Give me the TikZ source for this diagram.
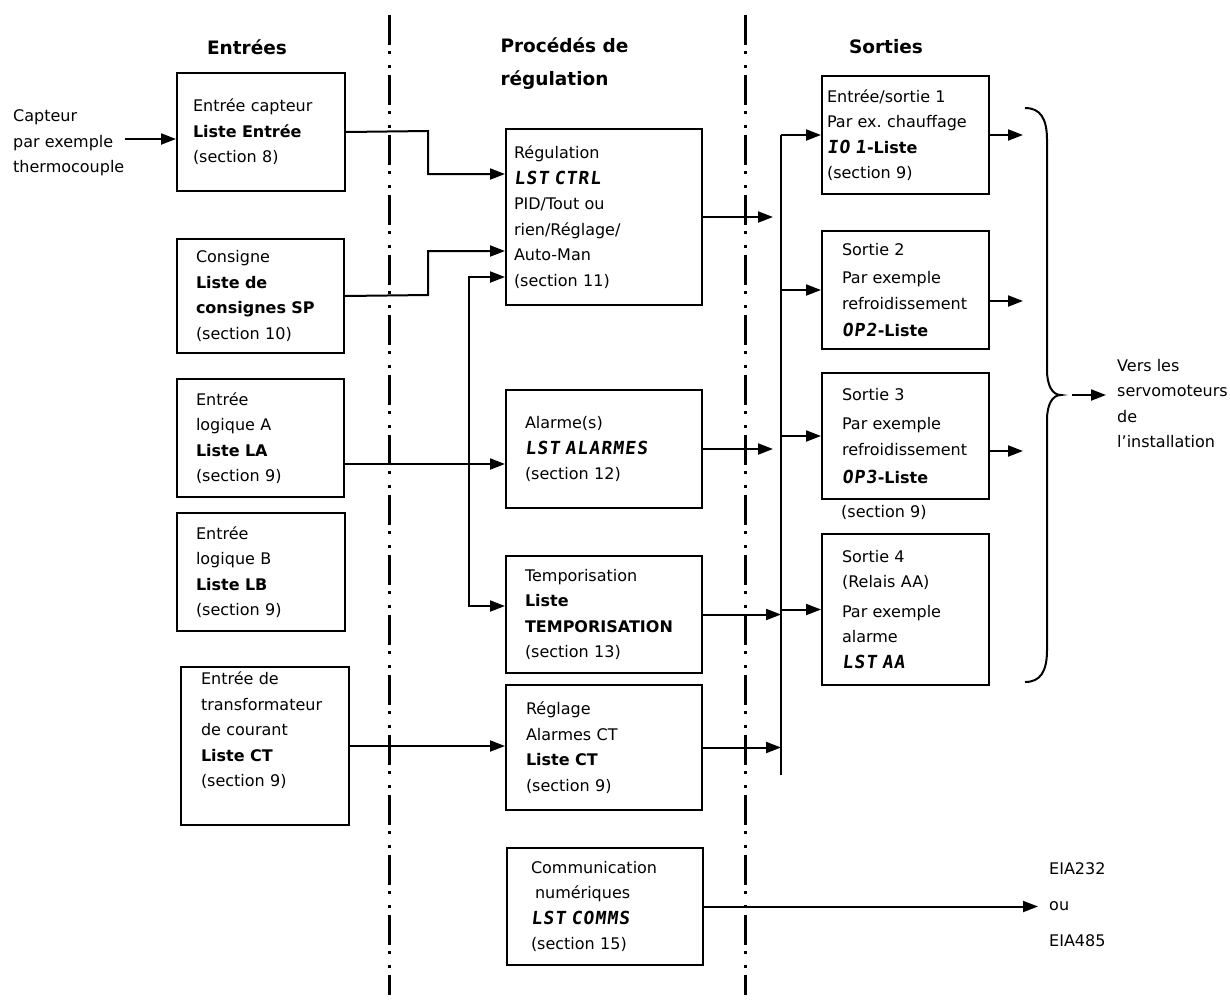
\documentclass[tikz,border=0pt]{standalone}
\usepackage{fontspec}
\setmainfont{DejaVu Sans}
\newfontfamily\segfont[FakeSlant=0.12,LetterSpace=6]{DejaVu Sans Mono}
\newcommand\seg[1]{{\segfont\bfseries\fontsize{18pt}{25.5pt}\selectfont #1}}
\usetikzlibrary{arrows.meta}

\begin{document}
\begin{tikzpicture}[x=1pt,y=-1pt,
  font=\fontsize{16pt}{25.5pt}\selectfont,
  box/.style={draw,line width=2pt,anchor=north west,align=left,inner sep=0pt},
  head/.style={font=\fontsize{18.5pt}{33pt}\selectfont\bfseries,align=left},
  txt/.style={align=left,inner sep=0pt},
  link/.style={line width=2pt},
  sep/.style={line width=3pt,dash pattern=on 30pt off 6pt on 3pt off 11pt on 3pt off 7pt},
  >={Triangle[length=15pt,width=11pt]}]
\useasboundingbox (0,0) rectangle (1230,999);
% separateurs
\draw[sep] (389,15) -- (389,995);
\draw[sep] (745,15) -- (745,995);
% titres
\node[head] (hin) at (247,47) {Entrées};
\node[head,anchor=west] (hproc) at (497,63.5) {Procédés de\\régulation};
\node[head] (hout) at (886,47) {Sorties};
% entrees
\node[txt,anchor=west] (capteur) at (13,143) {Capteur\\par exemple\\thermocouple};
\node[box,minimum width=168pt,minimum height=118pt,text width=136pt] (capt) at (176,72)
  {Entrée capteur\\\textbf{Liste Entrée}\\(section 8)};
\node[box,minimum width=167pt,minimum height=114pt,text width=129pt] (sp) at (176,238)
  {Consigne\\\textbf{Liste de}\\\textbf{consignes SP}\\(section 10)};
\node[box,minimum width=167pt,minimum height=118pt,text width=129pt] (la) at (176,378)
  {Entrée\\logique A\\\textbf{Liste LA}\\(section 9)};
\node[box,minimum width=168pt,minimum height=118pt,text width=130pt] (lb) at (176,512)
  {Entrée\\logique B\\\textbf{Liste LB}\\(section 9)};
\node[box,minimum width=168pt,minimum height=158pt,text width=128pt] (ct) at (180,666)
  {Entrée de\\transformateur\\de courant\\\textbf{Liste CT}\\(section 9)\\\strut};
% regulation
\node[box,minimum width=196pt,minimum height=176pt,text width=180pt] (reg) at (505,128)
  {Régulation\\\seg{LST CTRL}\\PID/Tout ou\\rien/Réglage/\\Auto-Man\\(section 11)};
\node[box,minimum width=196pt,minimum height=118pt,text width=158pt] (alm) at (505,389)
  {Alarme(s)\\\seg{LST ALARMES}\\(section 12)};
\node[box,minimum width=196pt,minimum height=117pt,text width=158pt] (tmp) at (505,555)
  {Temporisation\\\textbf{Liste}\\\textbf{TEMPORISATION}\\(section 13)};
\node[box,minimum width=196pt,minimum height=125pt,text width=156pt] (rgl) at (505,684)
  {Réglage\\Alarmes CT\\\textbf{Liste CT}\\(section 9)};
\node[box,minimum width=196pt,minimum height=117pt,text width=148pt] (com) at (506,847)
  {Communication\\\hspace*{4pt}numériques\\\seg{LST COMMS}\\(section 15)};
% sorties
\node[box,minimum width=167pt,minimum height=118pt,text width=157pt] (io1) at (821,75)
  {Entrée/sortie 1\\Par ex.\ chauffage\\\seg{IO 1}\textbf{-Liste}\\(section 9)};
\node[box,minimum width=167pt,minimum height=118pt,text width=127pt] (op2) at (821,230)
  {Sortie 2\\[3pt]Par exemple\\refroidissement\\[2pt]\seg{OP2}\textbf{-Liste}};
\node[box,minimum width=167pt,minimum height=126pt,text width=127pt] (op3) at (821,372)
  {Sortie 3\\[4pt]Par exemple\\refroidissement\\[3pt]\seg{OP3}\textbf{-Liste}};
\node[txt,anchor=west] (op3sec) at (841,512) {(section 9)};
\node[box,minimum width=167pt,minimum height=151pt,text width=127pt] (op4) at (821,533)
  {Sortie 4\\(Relais AA)\\[4pt]Par exemple\\alarme\\\seg{LST AA}};
\node[txt,anchor=west] (vers) at (1117,403.5) {Vers les\\servomoteurs\\de\\l’installation};
\node[txt,anchor=west,font=\fontsize{16pt}{36pt}\selectfont] (eia) at (1049,905) {EIA232\\ou\\EIA485};
% liaisons entrees
\coordinate (cin) at (capteur.east |- 0,139);
\draw[link,->] (cin) -- (cin -| capt.west);
\draw[link,->] (capt.east) -- (428,131) |- ([yshift=-46pt]reg.north west);
\draw[link,->] (sp.east) -- (428,295) |- ([yshift=-123pt]reg.north west);
\coordinate (lain) at ([yshift=-26pt]la.east);
\draw[link,->] (lain) -- (lain -| alm.west);
\coordinate (vbus) at (469,463);
\draw[link,->] (vbus) |- ([yshift=-149pt]reg.north west);
\draw[link,->] (vbus) |- ([yshift=-51pt]tmp.north west);
\draw[link,->] (ct.east) -- (ct.east -| rgl.west);
% bus sorties
\coordinate (bustop) at (io1.west -| 781,0);
\coordinate (busbot) at (781,775);
\draw[link] (bustop) -- (busbot);
\draw[link,->,shorten >=8pt] (reg.east) -- (reg.east -| bustop);
\draw[link,->,shorten >=8pt] (alm.east) -- (alm.east -| bustop);
\draw[link,->] (tmp.east) -- (tmp.east -| bustop);
\draw[link,->] (rgl.east) -- (rgl.east -| bustop);
\draw[link,->] (bustop) -- (io1.west);
\draw[link,->] (op2.west -| bustop) -- (op2.west);
\draw[link,->] (op3.west -| bustop) -- (op3.west);
\draw[link,->] (op4.west -| bustop) -- (op4.west);
\coordinate (out1) at ([xshift=33pt]io1.east);
\coordinate (out2) at ([xshift=33pt,yshift=-11pt]op2.east);
\coordinate (out3) at ([xshift=33pt,yshift=-15pt]op3.east);
\draw[link,->] (io1.east) -- (out1);
\draw[link,->] (out2 -| op2.east) -- (out2);
\draw[link,->] (out3 -| op3.east) -- (out3);
% accolade
\draw[link] (1025,108) .. controls (1040,108) and (1047,118) .. (1047,140) -- (1047,370)
  .. controls (1047,385) and (1052,395) .. (1061,395)
  .. controls (1052,395) and (1047,405) .. (1047,420) -- (1047,650)
  .. controls (1047,672) and (1040,682) .. (1025,682);
\coordinate (tip) at (1061,395);
\coordinate (versin) at ([xshift=-11pt]vers.west);
\draw[link,->] ([xshift=11pt]tip) -- (tip -| versin);
\draw[link,->,shorten >=11pt] (com.east) -- (com.east -| eia.west);
\end{tikzpicture}
\end{document}
